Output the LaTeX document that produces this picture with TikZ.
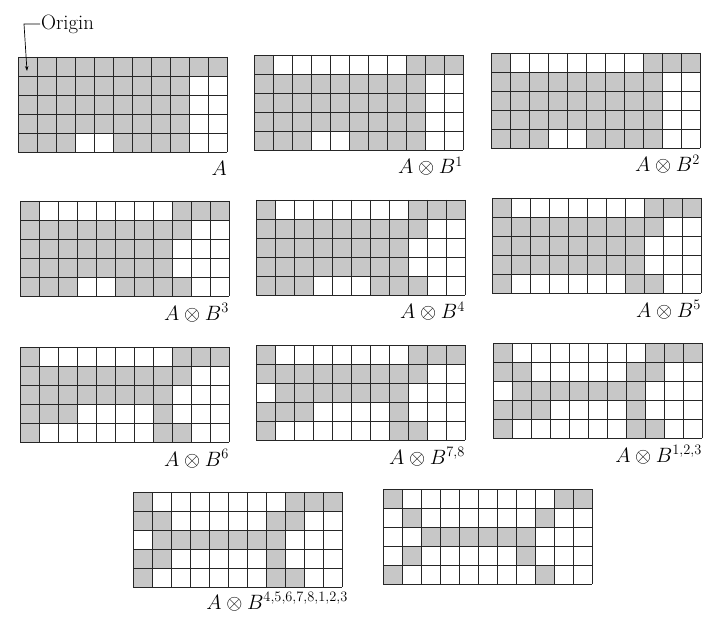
\documentclass[tikz,border=0pt]{standalone}
\usepackage{tikz}
\usetikzlibrary{arrows.meta}

\tikzset{
  pix/.style={fill=black!22},
  gridline/.style={draw=black!85, line width=0.8pt},
  gridlabel/.style={anchor=base east, inner sep=0pt, font=\huge},
}

% one 5x11 image: top-left corner, rows of bits, name of bottom-right corner
\newcommand{\thingrid}[4]{%
  \begin{scope}[shift={(#1,#2)}, x=19pt, y=-19pt]
    \foreach \cells [count=\rr] in {#3} {
      \foreach \bit [count=\cc] in \cells {
        \ifnum\bit=1 \fill[pix] (\cc-1,\rr-1) rectangle (\cc,\rr);\fi
      }
    }
    \foreach \k in {0,...,11} \draw[gridline] (\k,0) -- (\k,5);
    \foreach \k in {0,...,5} \draw[gridline] (0,\k) -- (11,\k);
    \coordinate (#4) at (11,5);
  \end{scope}}

\begin{document}
\begin{tikzpicture}[x=1pt, y=-1pt, >={Stealth[length=5pt, width=3.5pt]}]
\useasboundingbox (0,0) rectangle (716,623);

% row 1
\thingrid{18}{57}{{1,1,1,1,1,1,1,1,1,1,1},{1,1,1,1,1,1,1,1,1,0,0},{1,1,1,1,1,1,1,1,1,0,0},{1,1,1,1,1,1,1,1,1,0,0},{1,1,1,0,0,1,1,1,1,0,0}}{gA}
\thingrid{254}{55}{{1,0,0,0,0,0,0,0,1,1,1},{1,1,1,1,1,1,1,1,1,0,0},{1,1,1,1,1,1,1,1,1,0,0},{1,1,1,1,1,1,1,1,1,0,0},{1,1,1,0,0,1,1,1,1,0,0}}{gB1}
\thingrid{491}{53}{{1,0,0,0,0,0,0,0,1,1,1},{1,1,1,1,1,1,1,1,1,0,0},{1,1,1,1,1,1,1,1,1,0,0},{1,1,1,1,1,1,1,1,1,0,0},{1,1,1,0,0,1,1,1,1,0,0}}{gB2}
% row 2
\thingrid{20}{201}{{1,0,0,0,0,0,0,0,1,1,1},{1,1,1,1,1,1,1,1,1,0,0},{1,1,1,1,1,1,1,1,0,0,0},{1,1,1,1,1,1,1,1,0,0,0},{1,1,1,0,0,1,1,1,1,0,0}}{gB3}
\thingrid{256}{200}{{1,0,0,0,0,0,0,0,1,1,1},{1,1,1,1,1,1,1,1,1,0,0},{1,1,1,1,1,1,1,1,0,0,0},{1,1,1,1,1,1,1,1,0,0,0},{1,1,1,0,0,0,1,1,1,0,0}}{gB4}
\thingrid{492}{198}{{1,0,0,0,0,0,0,0,1,1,1},{1,1,1,1,1,1,1,1,1,0,0},{1,1,1,1,1,1,1,1,0,0,0},{1,1,1,1,1,1,1,1,0,0,0},{1,0,0,0,0,0,0,1,1,0,0}}{gB5}
% row 3
\thingrid{20}{347}{{1,0,0,0,0,0,0,0,1,1,1},{1,1,1,1,1,1,1,1,1,0,0},{1,1,1,1,1,1,1,1,0,0,0},{1,1,1,0,0,0,0,1,0,0,0},{1,0,0,0,0,0,0,1,1,0,0}}{gB6}
\thingrid{256}{345}{{1,0,0,0,0,0,0,0,1,1,1},{1,1,1,1,1,1,1,1,1,0,0},{0,1,1,1,1,1,1,1,0,0,0},{1,1,1,0,0,0,0,1,0,0,0},{1,0,0,0,0,0,0,1,1,0,0}}{gB78}
\thingrid{493}{343}{{1,0,0,0,0,0,0,0,1,1,1},{1,1,0,0,0,0,0,1,1,0,0},{0,1,1,1,1,1,1,1,0,0,0},{1,1,1,0,0,0,0,1,0,0,0},{1,0,0,0,0,0,0,1,1,0,0}}{gB123}
% row 4
\thingrid{133}{492}{{1,0,0,0,0,0,0,0,1,1,1},{1,1,0,0,0,0,0,1,1,0,0},{0,1,1,1,1,1,1,1,0,0,0},{1,1,0,0,0,0,0,1,0,0,0},{1,0,0,0,0,0,0,1,1,0,0}}{gBall}
\thingrid{383}{489}{{1,0,0,0,0,0,0,0,0,1,1},{0,1,0,0,0,0,0,0,1,0,0},{0,0,1,1,1,1,1,1,0,0,0},{0,1,0,0,0,0,0,1,0,0,0},{1,0,0,0,0,0,0,0,1,0,0}}{gM}

% labels
\node[gridlabel] (lblA) at ([yshift=-24pt]gA) {$A$};
\node[gridlabel] (lblB1) at ([yshift=-24pt]gB1) {$A \otimes B^1$};
\node[gridlabel] (lblB2) at ([yshift=-24pt]gB2) {$A \otimes B^2$};
\node[gridlabel] (lblB3) at ([yshift=-24pt]gB3) {$A \otimes B^3$};
\node[gridlabel] (lblB4) at ([yshift=-24pt]gB4) {$A \otimes B^4$};
\node[gridlabel] (lblB5) at ([yshift=-24pt]gB5) {$A \otimes B^5$};
\node[gridlabel] (lblB6) at ([yshift=-24pt]gB6) {$A \otimes B^6$};
\node[gridlabel] (lblB78) at ([yshift=-24pt]gB78) {$A \otimes B^{7,8}$};
\node[gridlabel] (lblB123) at ([yshift=-24pt]gB123) {$A \otimes B^{1,2,3}$};
\node[gridlabel] (lblBall) at ([xshift=6pt, yshift=-22pt]gBall) {$A \otimes B^{4,5,6,7,8,1,2,3}$};

% origin marker
\node[anchor=west, inner sep=0pt, font=\huge] (origin) at (41,24) {Origin};
\coordinate (bend) at (24,24);
\coordinate (origtip) at (27,71);
\draw[->, line width=0.7pt] ([xshift=-1pt]origin.west) -- (bend) -- (origtip);
\end{tikzpicture}
\end{document}
